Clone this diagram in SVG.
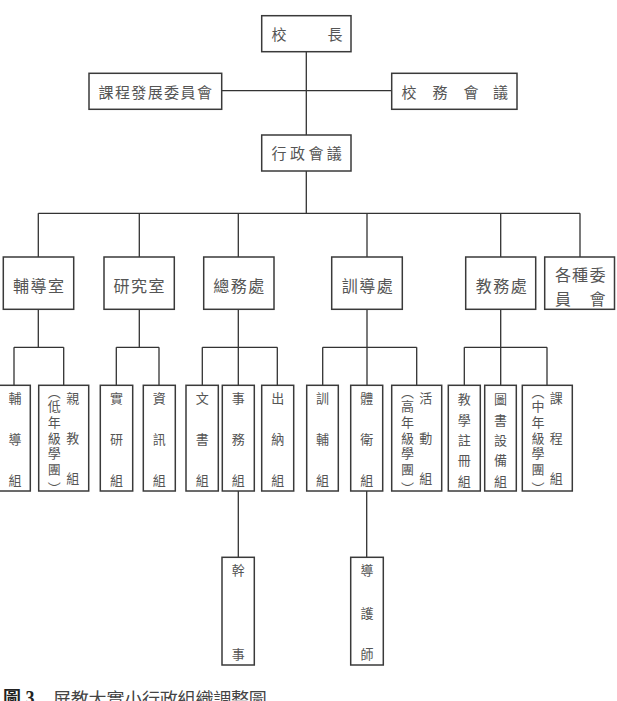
<svg xmlns="http://www.w3.org/2000/svg" width="617" height="701" viewBox="0 0 617 701">
<style>
.box{fill:#fff;stroke:#3a3a3a;stroke-width:1.5}
.ln{stroke:#333;stroke-width:1.3;fill:none}
text{font-family:"Noto Sans CJK TC","Noto Sans CJK SC",sans-serif;fill:#555;dominant-baseline:central;text-anchor:middle}
.t1{font-size:15px}
.t2{font-size:16px}
.t3{font-size:13px}
.cap{font-size:18px;fill:#444;text-anchor:start}
.capb{font-family:"Liberation Serif","Noto Sans CJK TC",serif;font-size:18px;font-weight:bold;fill:#222;text-anchor:start}
</style>
<rect width="617" height="701" fill="#fff"/>
<g id="connectors">
<path class="ln" d="M306.3 51.7V135M221.7 90.7H391.7M306.3 171V213.3M38.3 213.3H580M38.3 213.3V257M139.3 213.3V257M238.3 213.3V257M367 213.3V257M500.7 213.3V257M580 213.3V257"/>
<path class="ln" d="M38.3 309.3V347.3M14 347.3H63.7M14 347.3V385.3M63.7 347.3V385.3"/>
<path class="ln" d="M139.3 309.3V347.3M116.3 347.3H159M116.3 347.3V385.3M159 347.3V385.3"/>
<path class="ln" d="M238.3 309.3V385.3M202.3 347.3H277.3M202.3 347.3V385.3M277.3 347.3V385.3"/>
<path class="ln" d="M367 309.3V385.3M322.7 347.3H416.7M322.7 347.3V385.3M416.7 347.3V385.3"/>
<path class="ln" d="M500.7 309.3V385.3M464.3 347.3H547M464.3 347.3V385.3M547 347.3V385.3"/>
<path class="ln" d="M238.3 491V557.3M366.7 491V557.3"/>
</g>
<g id="n_principal"><rect class="box" x="261.7" y="15.7" width="89.3" height="36"/><text class="t1" x="279 335" y="33">校長</text></g>
<g id="n_curriculum"><rect class="box" x="89" y="73.3" width="132.7" height="36"/><text class="t1" x="106 122.4 138.8 155.2 171.6 188 204.4" y="91">課程發展委員會</text></g>
<g id="n_affairs"><rect class="box" x="391.7" y="73.3" width="125.3" height="36"/><text class="t1" x="409 440 471 500.5" y="91">校務會議</text></g>
<g id="n_admin"><rect class="box" x="261.7" y="135" width="89.3" height="36"/><text class="t1" x="279.1 297.5 315.9 334.3" y="152.7">行政會議</text></g>

<g id="n_counsel"><rect class="box" x="3.3" y="257" width="70.4" height="52.3"/><text class="t2" x="21.1 38.6 56.1" y="285.3">輔導室</text></g>
<g id="n_research"><rect class="box" x="104" y="257" width="70.3" height="52.3"/><text class="t2" x="121.5 139 156.5" y="285.3">研究室</text></g>
<g id="n_general"><rect class="box" x="203.7" y="257" width="70.3" height="52.3"/><text class="t2" x="221.2 238.7 256.2" y="285.3">總務處</text></g>
<g id="n_discipline"><rect class="box" x="331.7" y="257" width="70.6" height="52.3"/><text class="t2" x="349.7 367.2 384.7" y="285.3">訓導處</text></g>
<g id="n_academic"><rect class="box" x="465.7" y="257" width="70" height="52.3"/><text class="t2" x="483.7 501.2 518.7" y="285.3">教務處</text></g>
<g id="n_committees"><rect class="box" x="544.7" y="257" width="69.8" height="52.3"/><text class="t2" x="563 580 597.5 563 597.5" y="274.3 274.3 274.3 297.5 297.5">各種委員會</text></g>

<g id="n_g1"><rect class="box" x="-2" y="385.3" width="32.3" height="105.7"/><text class="t3" x="15 15 15" y="397 438 479">輔導組</text></g>
<g id="n_g2"><rect class="box" x="38.7" y="385.3" width="50" height="105.7"/><text class="t3" x="72.7 72.7 72.7" y="397 437 477">親教組</text><text class="t3" x="54.3 54.3 54.3 54.3 54.3 54.3 54.3" y="391 405 421 437 452 468 487">︵低年級學團︶</text></g>
<g id="n_g3"><rect class="box" x="100.3" y="385.3" width="32.4" height="105.7"/><text class="t3" x="116.5 116.5 116.5" y="397 438 479">實研組</text></g>
<g id="n_g4"><rect class="box" x="143.3" y="385.3" width="32" height="105.7"/><text class="t3" x="159.3 159.3 159.3" y="397 438 479">資訊組</text></g>
<g id="n_g5"><rect class="box" x="186" y="385.3" width="32.3" height="105.7"/><text class="t3" x="202.2 202.2 202.2" y="397 438 479">文書組</text></g>
<g id="n_g6"><rect class="box" x="222.3" y="385.3" width="32" height="105.7"/><text class="t3" x="238.3 238.3 238.3" y="397 438 479">事務組</text></g>
<g id="n_g7"><rect class="box" x="261.7" y="385.3" width="32" height="105.7"/><text class="t3" x="277.7 277.7 277.7" y="397 438 479">出納組</text></g>
<g id="n_g8"><rect class="box" x="306.7" y="385.3" width="31.6" height="105.7"/><text class="t3" x="322.5 322.5 322.5" y="397 438 479">訓輔組</text></g>
<g id="n_g9"><rect class="box" x="350.7" y="385.3" width="32" height="105.7"/><text class="t3" x="366.7 366.7 366.7" y="397 438 479">體衛組</text></g>
<g id="n_g10"><rect class="box" x="391.7" y="385.3" width="50" height="105.7"/><text class="t3" x="425.7 425.7 425.7" y="397 437 477">活動組</text><text class="t3" x="407.5 407.5 407.5 407.5 407.5 407.5 407.5" y="391 405 421 437 452 468 487">︵高年級學團︶</text></g>
<g id="n_g11"><rect class="box" x="448.3" y="385.3" width="32" height="105.7"/><text class="t3" x="464.3 464.3 464.3 464.3 464.3" y="398 419 439 459 480">教學註冊組</text></g>
<g id="n_g12"><rect class="box" x="484.7" y="385.3" width="31.6" height="105.7"/><text class="t3" x="500.5 500.5 500.5 500.5 500.5" y="398 419 439 459 480">圖書設備組</text></g>
<g id="n_g13"><rect class="box" x="522.3" y="385.3" width="50" height="105.7"/><text class="t3" x="556.3 556.3 556.3" y="397 437 477">課程組</text><text class="t3" x="538 538 538 538 538 538 538" y="391 405 421 437 452 468 487">︵中年級學團︶</text></g>

<g id="n_clerk"><rect class="box" x="222" y="557.3" width="32.3" height="107.7"/><text class="t3" x="238.2 238.2" y="569 653">幹事</text></g>
<g id="n_guard"><rect class="box" x="350.7" y="557.3" width="32.6" height="107.7"/><text class="t3" x="367 367 367" y="569 612 653">導護師</text></g>

<g id="caption"><text class="capb" x="3" y="698">圖 3</text><text class="cap" x="53" y="698" letter-spacing="-0.2">屏教大實小行政組織調整圖</text></g>
</svg>
